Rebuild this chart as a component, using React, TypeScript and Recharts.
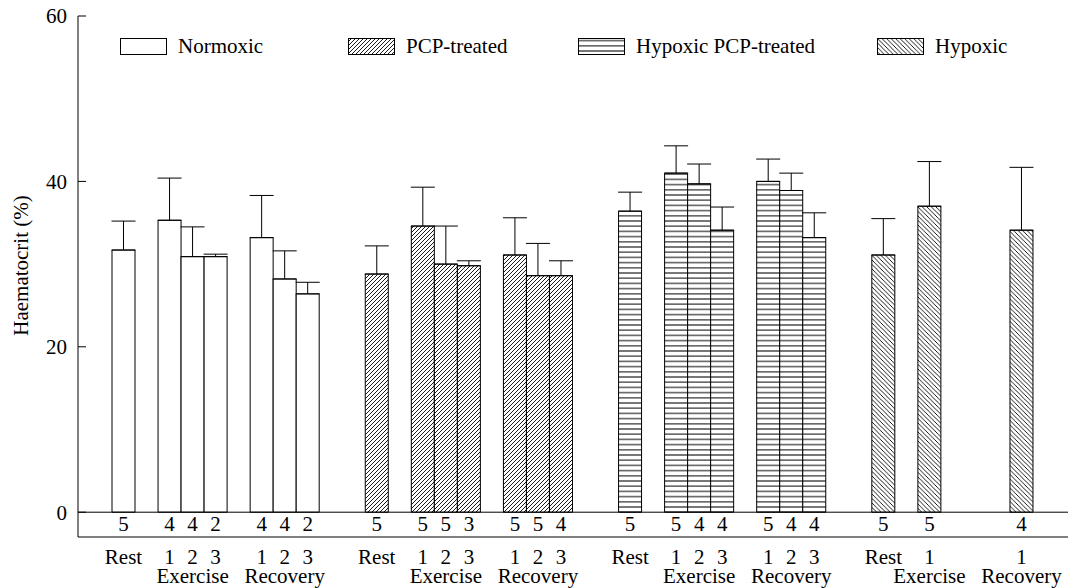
import React from "react";
import {
  BarChart,
  Bar,
  XAxis,
  YAxis,
  Cell,
  ErrorBar,
  LabelList,
  Label,
  Legend,
  ReferenceLine,
} from "recharts";

const groups = ["Normoxic", "PCP-treated", "Hypoxic PCP-treated", "Hypoxic"];
const samples = ["Rest", "Exercise 1", "Exercise 2", "Exercise 3", "Recovery 1", "Recovery 2", "Recovery 3"];
const sampleTicks = ["Rest", "1", "2", "3", "1", "2", "3"];
const phaseNames = ["Exercise", "Recovery"];
const yTicks = [0, 20, 40, 60];

// haematocrit means, SEM and n, in sample order
const normoxicMean = [31.7, 35.3, 30.9, 30.9, 33.2, 28.2, 26.4];
const normoxicSem = [3.5, 5.1, 3.6, 0.3, 5.1, 3.4, 1.4];
const normoxicN = [5, 4, 4, 2, 4, 4, 2];

const pcpMean = [28.8, 34.6, 30.0, 29.8, 31.1, 28.6, 28.6];
const pcpSem = [3.4, 4.7, 4.6, 0.6, 4.5, 3.9, 1.8];
const pcpN = [5, 5, 5, 3, 5, 5, 4];

const hypPcpMean = [36.4, 41.0, 39.7, 34.1, 40.0, 38.9, 33.2];
const hypPcpSem = [2.3, 3.3, 2.4, 2.8, 2.7, 2.1, 3.0];
const hypPcpN = [5, 5, 4, 4, 5, 4, 4];

const hypoxicMean = [31.1, 37.0, null, null, 34.1];
const hypoxicSem = [4.4, 5.4, null, null, 7.6];
const hypoxicN = [5, 5, null, null, 4];

const series = [
  [normoxicMean, normoxicSem, normoxicN],
  [pcpMean, pcpSem, pcpN],
  [hypPcpMean, hypPcpSem, hypPcpN],
  [hypoxicMean, hypoxicSem, hypoxicN],
];

const fills = ["#ffffff", "url(#hatch-up)", "url(#hatch-horiz)", "url(#hatch-down)"];
const legendLeft = [120, 348, 578, 877];
const font = { fontFamily: "'Liberation Serif', 'Times New Roman', serif", fontSize: 21, fill: "#000" };

type Slot = {
  key: string;
  group?: number;
  tick?: string;
  phase?: string;
  mean?: number | null;
  err?: [number, number];
  n?: number | null;
};

// one category per bar width, blanks keep the gaps between groups
const slots: Slot[] = [];
let gapCount = 0;
const blank = () => slots.push({ key: `gap${gapCount++}` });

series.forEach(([mean, sem, n], g) => {
  if (g > 0) {
    blank();
    blank();
  }
  const phaseSlots: Slot[][] = [[], []];
  samples.forEach((s, i) => {
    if (i === 1 || i === 4) blank();
    if (i >= mean.length) return;
    const m = mean[i];
    if (m == null) {
      blank();
      return;
    }
    const slot: Slot = {
      key: `${groups[g]} ${s}`,
      group: g,
      tick: sampleTicks[i],
      mean: m,
      err: [0, sem[i] as number],
      n: n[i],
    };
    slots.push(slot);
    if (i > 0) phaseSlots[i < 4 ? 0 : 1].push(slot);
  });
  phaseSlots.forEach((list, p) => {
    if (list.length) list[Math.floor(list.length / 2)].phase = phaseNames[p];
  });
});

const slotByKey: Record<string, Slot> = {};
slots.forEach((s) => (slotByKey[s.key] = s));

const SlotTick = ({ x, y, payload }: any) => {
  const slot = slotByKey[payload.value];
  if (!slot || !slot.tick) return null;
  return (
    <g>
      <text x={x} y={y + 27} textAnchor="middle" {...font}>
        {slot.tick}
      </text>
      {slot.phase && (
        <text x={x} y={y + 46} textAnchor="middle" {...font}>
          {slot.phase}
        </text>
      )}
    </g>
  );
};

const YTick = ({ x, y, payload }: any) => (
  <g>
    <line x1={x + 11} x2={x + 19} y1={y} y2={y} stroke="#000" />
    <text x={x} y={y} dy="0.35em" textAnchor="end" {...font}>
      {payload.value}
    </text>
  </g>
);

const YLabel = ({ viewBox }: any) => (
  <text
    transform={`translate(${viewBox.x + 28}, ${viewBox.y + viewBox.height / 2 - 11}) rotate(-90)`}
    textAnchor="middle"
    {...font}
  >
    Haematocrit (%)
  </text>
);

const NLabel = (props: any) => {
  const vb = props.viewBox ?? props;
  if (props.value == null) return null;
  return (
    <text x={vb.x + vb.width / 2} y={vb.y + vb.height + 19} textAnchor="middle" {...font}>
      {props.value}
    </text>
  );
};

const LegendBoxes = () => (
  <div style={{ position: "relative", height: 20 }}>
    {groups.map((g, i) => (
      <div
        key={g}
        style={{ position: "absolute", left: legendLeft[i], top: 0, display: "flex", alignItems: "center", whiteSpace: "nowrap" }}
      >
        <svg width={47} height={17} style={{ display: "block" }}>
          <rect x={0.5} y={0.5} width={46} height={16} fill={fills[i]} stroke="#000" />
        </svg>
        <span style={{ marginLeft: 11, fontFamily: font.fontFamily, fontSize: 21, color: "#000", lineHeight: "20px" }}>{g}</span>
      </div>
    ))}
  </div>
);

export default function App() {
  return (
    <div style={{ position: "absolute", left: 0, top: 0, width: 1078, height: 588, background: "#fff" }}>
      <svg width={0} height={0} style={{ position: "absolute" }}>
        <defs>
          <pattern id="hatch-up" width={4} height={4} patternUnits="userSpaceOnUse">
            <rect width={4} height={4} fill="#fff" />
            <path d="M-1,1 l2,-2 M0,4 l4,-4 M3,5 l2,-2" stroke="#000" strokeWidth={0.9} />
          </pattern>
          <pattern id="hatch-down" width={4.5} height={4.5} patternUnits="userSpaceOnUse">
            <rect width={4.5} height={4.5} fill="#fff" />
            <path d="M-1,3.5 l2,2 M0,0 l4.5,4.5 M3.5,-1 l2,2" stroke="#000" strokeWidth={0.9} />
          </pattern>
          <pattern id="hatch-horiz" width={8} height={5.2} patternUnits="userSpaceOnUse">
            <rect width={8} height={5.2} fill="#fff" />
            <line x1={0} x2={8} y1={2.6} y2={2.6} stroke="#000" strokeWidth={1} />
          </pattern>
        </defs>
      </svg>
      <BarChart
        width={1078}
        height={588}
        data={slots}
        margin={{ top: 16, right: 10, bottom: 0, left: 0 }}
        barCategoryGap={0}
        barGap={0}
      >
        <XAxis
          dataKey="key"
          height={51}
          interval={0}
          tickLine={false}
          tickSize={0}
          tickMargin={0}
          axisLine={{ stroke: "#000" }}
          padding={{ left: 34, right: 35 }}
          tick={<SlotTick />}
        />
        <XAxis xAxisId="top" orientation="top" dataKey="key" height={0} tick={false} tickLine={false} axisLine={{ stroke: "#000" }} />
        <YAxis
          width={78}
          domain={[-3, 60]}
          ticks={yTicks}
          allowDataOverflow
          tickLine={false}
          tickSize={0}
          tickMargin={11}
          axisLine={{ stroke: "#000" }}
          tick={<YTick />}
          label={<Label content={<YLabel />} />}
        />
        <YAxis yAxisId="right" orientation="right" width={0} domain={[-3, 60]} tick={false} tickLine={false} axisLine={{ stroke: "#000" }} />
        <Legend
          verticalAlign="middle"
          align="center"
          layout="horizontal"
          wrapperStyle={{ top: 36, left: 0, width: 1078 }}
          content={() => <LegendBoxes />}
        />
        <Bar dataKey="mean" stroke="#000" strokeWidth={1} isAnimationActive={false}>
          {slots.map((s) => (
            <Cell key={s.key} fill={s.group == null ? "none" : fills[s.group]} />
          ))}
          <ErrorBar dataKey="err" width={12} strokeWidth={1} stroke="#000" direction="y" />
          <LabelList dataKey="n" content={<NLabel />} />
        </Bar>
        <ReferenceLine y={0} stroke="#000" />
      </BarChart>
    </div>
  );
}
